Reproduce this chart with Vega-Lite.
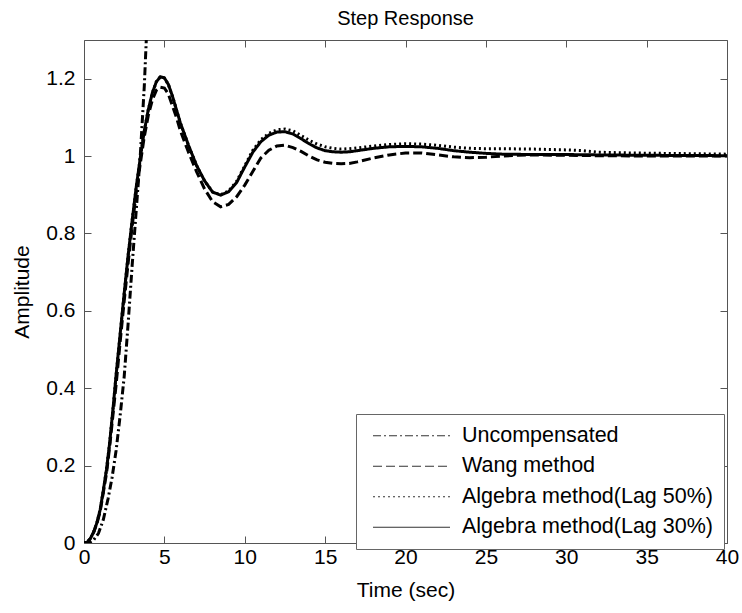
{
  "$schema": "https://vega.github.io/schema/vega-lite/v6.json",
  "width": 643,
  "height": 503,
  "autosize": "none",
  "padding": {"left": 84, "top": 40, "right": 15, "bottom": 70},
  "background": "white",
  "title": {"text": "Step Response", "fontSize": 20, "fontWeight": "normal", "font": "Liberation Sans", "offset": -5, "baseline": "alphabetic", "frame": "group", "anchor": "middle", "color": "black"},
  "config": {"view": {"stroke": null}, "font": "Liberation Sans"},
  "datasets": {
    "resp": [
      {"s": "Uncompensated", "t": 0, "v": 0}, {"s": "Uncompensated", "t": 0.3, "v": 0}, {"s": "Uncompensated", "t": 0.6, "v": 0.008}, {"s": "Uncompensated", "t": 0.9, "v": 0.025}, {"s": "Uncompensated", "t": 1.2, "v": 0.06}, {"s": "Uncompensated", "t": 1.5, "v": 0.115}, {"s": "Uncompensated", "t": 1.75, "v": 0.17}, {"s": "Uncompensated", "t": 2, "v": 0.24}, {"s": "Uncompensated", "t": 2.25, "v": 0.33}, {"s": "Uncompensated", "t": 2.5, "v": 0.43}, {"s": "Uncompensated", "t": 2.75, "v": 0.57}, {"s": "Uncompensated", "t": 3, "v": 0.72}, {"s": "Uncompensated", "t": 3.25, "v": 0.86}, {"s": "Uncompensated", "t": 3.5, "v": 1.0}, {"s": "Uncompensated", "t": 3.75, "v": 1.18}, {"s": "Uncompensated", "t": 4, "v": 1.42},

      {"s": "Wang method", "t": 0, "v": 0}, {"s": "Wang method", "t": 0.2, "v": 0.001}, {"s": "Wang method", "t": 0.4, "v": 0.012}, {"s": "Wang method", "t": 0.6, "v": 0.028}, {"s": "Wang method", "t": 0.8, "v": 0.05}, {"s": "Wang method", "t": 1, "v": 0.08}, {"s": "Wang method", "t": 1.2, "v": 0.13}, {"s": "Wang method", "t": 1.4, "v": 0.18}, {"s": "Wang method", "t": 1.6, "v": 0.25}, {"s": "Wang method", "t": 1.8, "v": 0.33}, {"s": "Wang method", "t": 2, "v": 0.41}, {"s": "Wang method", "t": 2.25, "v": 0.52}, {"s": "Wang method", "t": 2.5, "v": 0.625}, {"s": "Wang method", "t": 2.75, "v": 0.725}, {"s": "Wang method", "t": 3, "v": 0.82}, {"s": "Wang method", "t": 3.25, "v": 0.905}, {"s": "Wang method", "t": 3.5, "v": 0.98}, {"s": "Wang method", "t": 3.75, "v": 1.05}, {"s": "Wang method", "t": 4, "v": 1.105}, {"s": "Wang method", "t": 4.25, "v": 1.145}, {"s": "Wang method", "t": 4.5, "v": 1.17}, {"s": "Wang method", "t": 4.75, "v": 1.178}, {"s": "Wang method", "t": 5, "v": 1.176}, {"s": "Wang method", "t": 5.25, "v": 1.16}, {"s": "Wang method", "t": 5.5, "v": 1.13}, {"s": "Wang method", "t": 5.75, "v": 1.1}, {"s": "Wang method", "t": 6, "v": 1.065}, {"s": "Wang method", "t": 6.5, "v": 1.01}, {"s": "Wang method", "t": 7, "v": 0.96}, {"s": "Wang method", "t": 7.5, "v": 0.915}, {"s": "Wang method", "t": 8, "v": 0.882}, {"s": "Wang method", "t": 8.5, "v": 0.869}, {"s": "Wang method", "t": 9, "v": 0.875}, {"s": "Wang method", "t": 9.5, "v": 0.895}, {"s": "Wang method", "t": 10, "v": 0.925}, {"s": "Wang method", "t": 10.5, "v": 0.96}, {"s": "Wang method", "t": 11, "v": 0.995}, {"s": "Wang method", "t": 11.5, "v": 1.015}, {"s": "Wang method", "t": 12, "v": 1.026}, {"s": "Wang method", "t": 12.5, "v": 1.028}, {"s": "Wang method", "t": 13, "v": 1.022}, {"s": "Wang method", "t": 13.5, "v": 1.012}, {"s": "Wang method", "t": 14, "v": 1.0}, {"s": "Wang method", "t": 14.5, "v": 0.99}, {"s": "Wang method", "t": 15, "v": 0.984}, {"s": "Wang method", "t": 15.5, "v": 0.981}, {"s": "Wang method", "t": 16, "v": 0.98}, {"s": "Wang method", "t": 16.5, "v": 0.981}, {"s": "Wang method", "t": 17, "v": 0.985}, {"s": "Wang method", "t": 18, "v": 0.995}, {"s": "Wang method", "t": 19, "v": 1.003}, {"s": "Wang method", "t": 20, "v": 1.008}, {"s": "Wang method", "t": 21, "v": 1.008}, {"s": "Wang method", "t": 22, "v": 1.003}, {"s": "Wang method", "t": 23, "v": 0.998}, {"s": "Wang method", "t": 24, "v": 0.996}, {"s": "Wang method", "t": 25, "v": 0.997}, {"s": "Wang method", "t": 26, "v": 1.0}, {"s": "Wang method", "t": 27, "v": 1.002}, {"s": "Wang method", "t": 28, "v": 1.003}, {"s": "Wang method", "t": 30, "v": 1.002}, {"s": "Wang method", "t": 32, "v": 1.001}, {"s": "Wang method", "t": 35, "v": 1.0}, {"s": "Wang method", "t": 40, "v": 1.0},

      {"s": "Algebra method(Lag 50%)", "t": 0, "v": 0}, {"s": "Algebra method(Lag 50%)", "t": 0.2, "v": 0.002}, {"s": "Algebra method(Lag 50%)", "t": 0.4, "v": 0.012}, {"s": "Algebra method(Lag 50%)", "t": 0.6, "v": 0.028}, {"s": "Algebra method(Lag 50%)", "t": 0.8, "v": 0.052}, {"s": "Algebra method(Lag 50%)", "t": 1, "v": 0.085}, {"s": "Algebra method(Lag 50%)", "t": 1.2, "v": 0.135}, {"s": "Algebra method(Lag 50%)", "t": 1.4, "v": 0.19}, {"s": "Algebra method(Lag 50%)", "t": 1.6, "v": 0.26}, {"s": "Algebra method(Lag 50%)", "t": 1.8, "v": 0.345}, {"s": "Algebra method(Lag 50%)", "t": 2, "v": 0.435}, {"s": "Algebra method(Lag 50%)", "t": 2.25, "v": 0.54}, {"s": "Algebra method(Lag 50%)", "t": 2.5, "v": 0.645}, {"s": "Algebra method(Lag 50%)", "t": 2.75, "v": 0.745}, {"s": "Algebra method(Lag 50%)", "t": 3, "v": 0.835}, {"s": "Algebra method(Lag 50%)", "t": 3.25, "v": 0.92}, {"s": "Algebra method(Lag 50%)", "t": 3.5, "v": 0.995}, {"s": "Algebra method(Lag 50%)", "t": 3.75, "v": 1.065}, {"s": "Algebra method(Lag 50%)", "t": 4, "v": 1.12}, {"s": "Algebra method(Lag 50%)", "t": 4.25, "v": 1.163}, {"s": "Algebra method(Lag 50%)", "t": 4.5, "v": 1.192}, {"s": "Algebra method(Lag 50%)", "t": 4.75, "v": 1.205}, {"s": "Algebra method(Lag 50%)", "t": 5, "v": 1.202}, {"s": "Algebra method(Lag 50%)", "t": 5.25, "v": 1.185}, {"s": "Algebra method(Lag 50%)", "t": 5.5, "v": 1.155}, {"s": "Algebra method(Lag 50%)", "t": 5.75, "v": 1.12}, {"s": "Algebra method(Lag 50%)", "t": 6, "v": 1.085}, {"s": "Algebra method(Lag 50%)", "t": 6.5, "v": 1.028}, {"s": "Algebra method(Lag 50%)", "t": 7, "v": 0.976}, {"s": "Algebra method(Lag 50%)", "t": 7.5, "v": 0.936}, {"s": "Algebra method(Lag 50%)", "t": 8, "v": 0.907}, {"s": "Algebra method(Lag 50%)", "t": 8.5, "v": 0.9}, {"s": "Algebra method(Lag 50%)", "t": 9, "v": 0.91}, {"s": "Algebra method(Lag 50%)", "t": 9.5, "v": 0.935}, {"s": "Algebra method(Lag 50%)", "t": 10, "v": 0.975}, {"s": "Algebra method(Lag 50%)", "t": 10.5, "v": 1.015}, {"s": "Algebra method(Lag 50%)", "t": 11, "v": 1.042}, {"s": "Algebra method(Lag 50%)", "t": 11.5, "v": 1.059}, {"s": "Algebra method(Lag 50%)", "t": 12, "v": 1.068}, {"s": "Algebra method(Lag 50%)", "t": 12.5, "v": 1.07}, {"s": "Algebra method(Lag 50%)", "t": 13, "v": 1.065}, {"s": "Algebra method(Lag 50%)", "t": 13.5, "v": 1.053}, {"s": "Algebra method(Lag 50%)", "t": 14, "v": 1.041}, {"s": "Algebra method(Lag 50%)", "t": 14.5, "v": 1.031}, {"s": "Algebra method(Lag 50%)", "t": 15, "v": 1.024}, {"s": "Algebra method(Lag 50%)", "t": 15.5, "v": 1.02}, {"s": "Algebra method(Lag 50%)", "t": 16, "v": 1.018}, {"s": "Algebra method(Lag 50%)", "t": 16.5, "v": 1.019}, {"s": "Algebra method(Lag 50%)", "t": 17, "v": 1.021}, {"s": "Algebra method(Lag 50%)", "t": 18, "v": 1.026}, {"s": "Algebra method(Lag 50%)", "t": 19, "v": 1.03}, {"s": "Algebra method(Lag 50%)", "t": 20, "v": 1.032}, {"s": "Algebra method(Lag 50%)", "t": 21, "v": 1.031}, {"s": "Algebra method(Lag 50%)", "t": 22, "v": 1.028}, {"s": "Algebra method(Lag 50%)", "t": 23, "v": 1.023}, {"s": "Algebra method(Lag 50%)", "t": 24, "v": 1.02}, {"s": "Algebra method(Lag 50%)", "t": 25, "v": 1.019}, {"s": "Algebra method(Lag 50%)", "t": 26, "v": 1.019}, {"s": "Algebra method(Lag 50%)", "t": 28, "v": 1.018}, {"s": "Algebra method(Lag 50%)", "t": 30, "v": 1.016}, {"s": "Algebra method(Lag 50%)", "t": 31, "v": 1.014}, {"s": "Algebra method(Lag 50%)", "t": 32, "v": 1.01}, {"s": "Algebra method(Lag 50%)", "t": 34, "v": 1.008}, {"s": "Algebra method(Lag 50%)", "t": 36, "v": 1.007}, {"s": "Algebra method(Lag 50%)", "t": 38, "v": 1.006}, {"s": "Algebra method(Lag 50%)", "t": 40, "v": 1.005},

      {"s": "Algebra method(Lag 30%)", "t": 0, "v": 0}, {"s": "Algebra method(Lag 30%)", "t": 0.2, "v": 0.002}, {"s": "Algebra method(Lag 30%)", "t": 0.4, "v": 0.012}, {"s": "Algebra method(Lag 30%)", "t": 0.6, "v": 0.028}, {"s": "Algebra method(Lag 30%)", "t": 0.8, "v": 0.052}, {"s": "Algebra method(Lag 30%)", "t": 1, "v": 0.085}, {"s": "Algebra method(Lag 30%)", "t": 1.2, "v": 0.135}, {"s": "Algebra method(Lag 30%)", "t": 1.4, "v": 0.19}, {"s": "Algebra method(Lag 30%)", "t": 1.6, "v": 0.26}, {"s": "Algebra method(Lag 30%)", "t": 1.8, "v": 0.345}, {"s": "Algebra method(Lag 30%)", "t": 2, "v": 0.435}, {"s": "Algebra method(Lag 30%)", "t": 2.25, "v": 0.54}, {"s": "Algebra method(Lag 30%)", "t": 2.5, "v": 0.645}, {"s": "Algebra method(Lag 30%)", "t": 2.75, "v": 0.745}, {"s": "Algebra method(Lag 30%)", "t": 3, "v": 0.835}, {"s": "Algebra method(Lag 30%)", "t": 3.25, "v": 0.92}, {"s": "Algebra method(Lag 30%)", "t": 3.5, "v": 0.995}, {"s": "Algebra method(Lag 30%)", "t": 3.75, "v": 1.065}, {"s": "Algebra method(Lag 30%)", "t": 4, "v": 1.12}, {"s": "Algebra method(Lag 30%)", "t": 4.25, "v": 1.163}, {"s": "Algebra method(Lag 30%)", "t": 4.5, "v": 1.192}, {"s": "Algebra method(Lag 30%)", "t": 4.75, "v": 1.205}, {"s": "Algebra method(Lag 30%)", "t": 5, "v": 1.202}, {"s": "Algebra method(Lag 30%)", "t": 5.25, "v": 1.185}, {"s": "Algebra method(Lag 30%)", "t": 5.5, "v": 1.155}, {"s": "Algebra method(Lag 30%)", "t": 5.75, "v": 1.12}, {"s": "Algebra method(Lag 30%)", "t": 6, "v": 1.085}, {"s": "Algebra method(Lag 30%)", "t": 6.5, "v": 1.028}, {"s": "Algebra method(Lag 30%)", "t": 7, "v": 0.976}, {"s": "Algebra method(Lag 30%)", "t": 7.5, "v": 0.936}, {"s": "Algebra method(Lag 30%)", "t": 8, "v": 0.907}, {"s": "Algebra method(Lag 30%)", "t": 8.5, "v": 0.899}, {"s": "Algebra method(Lag 30%)", "t": 9, "v": 0.908}, {"s": "Algebra method(Lag 30%)", "t": 9.5, "v": 0.932}, {"s": "Algebra method(Lag 30%)", "t": 10, "v": 0.972}, {"s": "Algebra method(Lag 30%)", "t": 10.5, "v": 1.01}, {"s": "Algebra method(Lag 30%)", "t": 11, "v": 1.037}, {"s": "Algebra method(Lag 30%)", "t": 11.5, "v": 1.054}, {"s": "Algebra method(Lag 30%)", "t": 12, "v": 1.062}, {"s": "Algebra method(Lag 30%)", "t": 12.5, "v": 1.063}, {"s": "Algebra method(Lag 30%)", "t": 13, "v": 1.057}, {"s": "Algebra method(Lag 30%)", "t": 13.5, "v": 1.045}, {"s": "Algebra method(Lag 30%)", "t": 14, "v": 1.032}, {"s": "Algebra method(Lag 30%)", "t": 14.5, "v": 1.021}, {"s": "Algebra method(Lag 30%)", "t": 15, "v": 1.014}, {"s": "Algebra method(Lag 30%)", "t": 15.5, "v": 1.011}, {"s": "Algebra method(Lag 30%)", "t": 16, "v": 1.01}, {"s": "Algebra method(Lag 30%)", "t": 16.5, "v": 1.011}, {"s": "Algebra method(Lag 30%)", "t": 17, "v": 1.014}, {"s": "Algebra method(Lag 30%)", "t": 18, "v": 1.02}, {"s": "Algebra method(Lag 30%)", "t": 19, "v": 1.024}, {"s": "Algebra method(Lag 30%)", "t": 20, "v": 1.025}, {"s": "Algebra method(Lag 30%)", "t": 21, "v": 1.024}, {"s": "Algebra method(Lag 30%)", "t": 22, "v": 1.02}, {"s": "Algebra method(Lag 30%)", "t": 23, "v": 1.014}, {"s": "Algebra method(Lag 30%)", "t": 24, "v": 1.01}, {"s": "Algebra method(Lag 30%)", "t": 25, "v": 1.007}, {"s": "Algebra method(Lag 30%)", "t": 26, "v": 1.005}, {"s": "Algebra method(Lag 30%)", "t": 28, "v": 1.004}, {"s": "Algebra method(Lag 30%)", "t": 30, "v": 1.004}, {"s": "Algebra method(Lag 30%)", "t": 32, "v": 1.003}, {"s": "Algebra method(Lag 30%)", "t": 35, "v": 1.002}, {"s": "Algebra method(Lag 30%)", "t": 40, "v": 1.001}
    ]
  },
  "layer": [
    {
      "mark": {"type": "rule", "color": "#8c8c8c", "strokeWidth": 1, "strokeDash": [2, 2]},
      "encoding": {
        "x": {"datum": 0, "type": "quantitative", "axis": {"orient": "top", "values": [0, 5, 10, 15, 20, 25, 30, 35, 40], "labels": false, "title": null, "grid": false, "tickSize": -7, "tickColor": "#555", "domainColor": "#555"}},
        "x2": {"datum": 40},
        "y": {"datum": 1, "type": "quantitative", "axis": {"orient": "right", "values": [0, 0.2, 0.4, 0.6, 0.8, 1, 1.2], "labels": false, "title": null, "grid": false, "tickSize": -7, "tickColor": "#555", "domainColor": "#555"}}
      }
    },
    {
      "data": {"name": "resp"},
      "mark": {"type": "line", "color": "black", "strokeWidth": 3, "clip": true},
      "encoding": {
        "x": {"field": "t", "type": "quantitative", "scale": {"domain": [0, 40], "nice": false},
          "axis": {"orient": "bottom", "values": [0, 5, 10, 15, 20, 25, 30, 35, 40], "title": "Time (sec)", "titleFontSize": 21, "titleFontWeight": "normal", "titleColor": "black", "titleFont": "Liberation Sans", "labelFont": "Liberation Sans", "labelFontSize": 21, "labelColor": "black", "labelFlush": false, "labelOverlap": false, "tickSize": -7, "tickColor": "#555", "domainColor": "#555", "labelPadding": 10, "titlePadding": 12, "grid": false}},
        "y": {"field": "v", "type": "quantitative", "scale": {"domain": [0, 1.3], "nice": false},
          "axis": {"orient": "left", "values": [0, 0.2, 0.4, 0.6, 0.8, 1, 1.2], "format": "~g", "title": "Amplitude", "titleFontSize": 21, "titleFontWeight": "normal", "titleColor": "black", "titleFont": "Liberation Sans", "labelFont": "Liberation Sans", "labelFontSize": 21, "labelColor": "black", "labelFlush": false, "labelOverlap": false, "tickSize": -7, "tickColor": "#555", "domainColor": "#555", "labelPadding": 16, "titlePadding": 13, "grid": false}},
        "strokeDash": {"field": "s", "type": "nominal",
          "scale": {"domain": ["Uncompensated", "Wang method", "Algebra method(Lag 50%)", "Algebra method(Lag 30%)"], "range": [[8, 3, 2, 3], [9, 4], [2, 3], [1, 0]]},
          "legend": {"orient": "none", "legendX": 272, "legendY": 374, "title": null, "symbolType": "M-0.475,0H7.225", "symbolSize": 400, "symbolStrokeWidth": 1, "symbolStrokeColor": "#333", "symbolFillColor": "transparent", "labelFont": "Liberation Sans", "labelFontSize": 21.5, "labelColor": "black", "labelLimit": 400, "labelOffset": 73.5, "rowPadding": 7.5, "padding": 11, "strokeColor": "#666", "fillColor": "white",
            "encode": {"symbols": {"update": {"stroke": {"value": "#333"}, "strokeWidth": {"value": 1}, "fill": {"value": "transparent"}}}}}
        }
      }
    }
  ],
  "resolve": {"axis": {"x": "independent", "y": "independent"}}
}
